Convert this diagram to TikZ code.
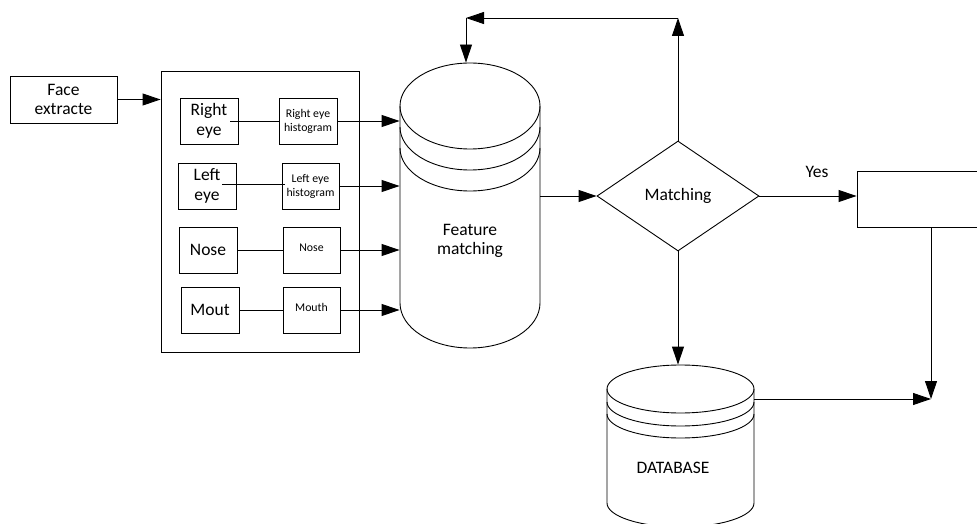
\documentclass[tikz,border=0pt]{standalone}
\usepackage{fontspec}
\setmainfont{Carlito}
\usetikzlibrary{shapes.geometric,arrows.meta}
\tikzset{
  every picture/.style={line width=0.9pt},
  big/.style={font=\fontsize{17.5}{19.5}\selectfont, align=center},
  small/.style={font=\fontsize{11.8}{14}\selectfont, align=center},
  boxx/.style={draw, rectangle, inner sep=0pt},
  arr/.style={-{Triangle[length=18pt,width=12pt]}},
  ghost/.style={rectangle, inner sep=0pt},
}
\begin{document}
\begin{tikzpicture}[x=1pt,y=-1pt]
\useasboundingbox (0,0) rectangle (977,524);
% left part
\node[boxx,big,minimum width=107pt,minimum height=47pt] (fe) at (63.5,99.5) {Face\\extracte};
\node[boxx,minimum width=198pt,minimum height=281pt] (ob) at (260,211.5) {};
\node[boxx,big,minimum width=58pt,minimum height=46pt] (re) at (209,121) {Right\\eye};
\node[boxx,small,minimum width=58pt,minimum height=46pt] (rh) at (308,121) {Right eye\\histogram};
\node[boxx,big,minimum width=58pt,minimum height=46pt] (le) at (207,186) {Left\\eye};
\node[boxx,small,minimum width=57pt,minimum height=46pt] (lh) at (310.5,186) {Left eye\\histogram};
\node[boxx,big,minimum width=58pt,minimum height=46pt] (ns) at (208,250) {Nose};
\node[boxx,small,minimum width=57pt,minimum height=46pt] (nh) at (311.5,250) {\raisebox{4pt}{Nose}};
\node[boxx,big,minimum width=58pt,minimum height=46pt] (mo) at (210,310) {Mout};
\node[boxx,small,minimum width=57pt,minimum height=46pt] (mh) at (311.5,310) {\raisebox{6pt}{Mouth}};
% feature matching cylinder
\node[ghost,minimum width=140pt,minimum height=285pt] (fm) at (470,205.5) {};
\draw (470,106) ellipse [x radius=70pt, y radius=43pt];
\draw (400,127) arc[start angle=180,end angle=360,x radius=70pt,y radius=43pt];
\draw (400,148) arc[start angle=180,end angle=360,x radius=70pt,y radius=43pt];
\draw (400,106) -- (400,303) arc[start angle=180,end angle=360,x radius=70pt,y radius=45pt] -- (540,106);
\node[big] (fmt) at (470,241) {Feature\\matching};
% diamond
\node[draw,diamond,big,minimum width=162pt,minimum height=110pt,inner sep=0pt] (dm) at (678,196) {Matching};
% result box
\node[boxx,minimum width=133pt,minimum height=56pt] (rb) at (923.5,199) {};
\node[big] (yes) at (817,172) {Yes};
% database cylinder
\node[ghost,minimum width=147pt,minimum height=162pt] (db) at (680.5,446) {};
\draw (680.5,389) ellipse [x radius=73.5pt, y radius=24pt];
\draw (607,402) arc[start angle=180,end angle=360,x radius=73.5pt,y radius=24pt];
\draw (607,414) arc[start angle=180,end angle=360,x radius=73.5pt,y radius=24pt];
\draw (607,389) -- (607,503) arc[start angle=180,end angle=360,x radius=73.5pt,y radius=24pt] -- (754,389);
\node[big] (dbt) at (673,468) {DATABASE};
% coordinates
\coordinate (topR) at (678,18);
\coordinate (topL) at (466,18);
\coordinate (meet) at (931,399);
% connectors
\draw[arr] (fe.east) -- (fe.east -| ob.west);
\draw ([xshift=-8pt]re.east) -- (rh.west);
\draw ([xshift=-14pt,yshift=2pt]le.east) -- ([xshift=3pt,yshift=2pt]lh.west);
\draw (ns.east) -- (nh.west);
\draw (mo.east) -- (mh.west);
\draw[arr] (rh.east) -- (rh.east -| fm.west);
\draw[arr] (lh.east) -- (lh.east -| fm.west);
\draw[arr] (nh.east) -- (nh.east -| fm.west);
\draw[arr] (mh.east) -- (mh.east -| fm.west);
\draw[arr] (dm.west -| fm.east) -- (dm.west);
\draw[arr] (dm.north) -- (topR);
\draw[arr] (topR) -- (topL);
\draw[arr] (topL) -- (topL |- fm.north);
\draw[arr] (dm.east) -- (dm.east -| rb.west);
\draw[arr] (dm.south) -- (dm.south |- db.north);
\draw[arr] (rb.south -| meet) -- (meet);
\draw[arr] (meet -| db.east) -- (meet);
\end{tikzpicture}
\end{document}
